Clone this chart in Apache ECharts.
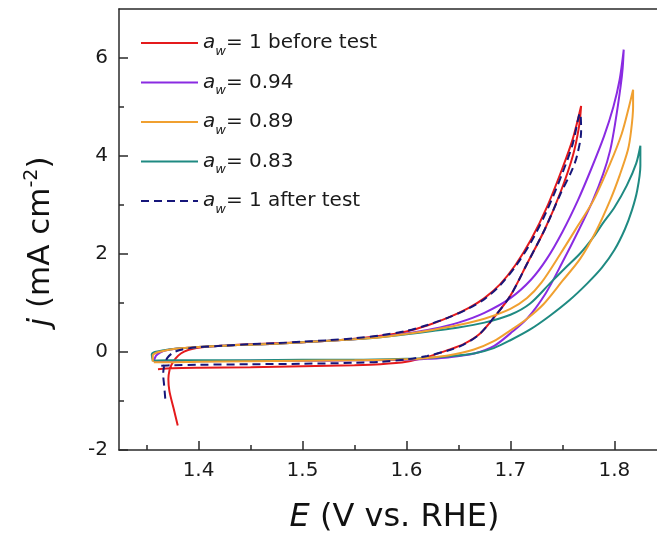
<!DOCTYPE html>
<html>
<head>
<meta charset="utf-8">
<script src="https://cdn.jsdelivr.net/npm/echarts@6/dist/echarts.min.js"></script>
<style>
html,body{margin:0;padding:0;background:#fff;}
#chart{width:657px;height:539px;}
</style>
</head>
<body>
<div id="chart"></div>
<script>
// ---------- data (E in V vs. RHE, j in mA cm^-2) ----------
const legendSuffix = ['= 1 before test', '= 0.94', '= 0.89', '= 0.83', '= 1 after test'];
const seriesNames = ['aw 1 before test', 'aw 0.94', 'aw 0.89', 'aw 0.83', 'aw 1 after test'];

const xMajorTicks = [1.4, 1.5, 1.6, 1.7, 1.8];
const xMinorTicks = [1.35, 1.45, 1.55, 1.65, 1.75];
const yMajorTicks = [-2, 0, 2, 4, 6];
const yMinorTicks = [-1, 1, 3, 5];

const redBefore = [
  [1.380,-1.50],[1.376,-1.15],[1.372,-0.80],[1.371,-0.55],[1.372,-0.38],[1.374,-0.26],
  [1.378,-0.13],[1.383,-0.03],[1.390,0.04],[1.398,0.08],[1.410,0.11],[1.425,0.13],
  [1.450,0.16],[1.475,0.18],[1.500,0.20],[1.525,0.23],[1.550,0.27],[1.575,0.33],
  [1.600,0.42],[1.620,0.54],[1.640,0.70],[1.660,0.90],[1.675,1.10],[1.690,1.38],
  [1.705,1.78],[1.720,2.30],[1.735,2.95],[1.750,3.75],[1.760,4.35],[1.768,5.02],
  [1.766,4.60],[1.760,4.00],[1.748,3.25],[1.733,2.50],[1.716,1.80],[1.700,1.15],
  [1.684,0.70],[1.670,0.36],[1.655,0.16],[1.640,0.04],[1.620,-0.10],[1.600,-0.20],
  [1.575,-0.25],[1.550,-0.27],[1.500,-0.29],[1.450,-0.31],[1.400,-0.32],[1.375,-0.33],[1.361,-0.35]
];
const aw094 = [
  [1.357,-0.19],[1.359,-0.08],[1.363,-0.01],[1.370,0.04],[1.380,0.07],[1.400,0.10],
  [1.425,0.13],[1.450,0.15],[1.475,0.17],[1.500,0.20],[1.525,0.23],[1.550,0.26],
  [1.575,0.31],[1.600,0.38],[1.625,0.47],[1.650,0.60],[1.675,0.80],[1.700,1.10],
  [1.720,1.48],[1.735,1.90],[1.750,2.45],[1.765,3.10],[1.778,3.75],[1.790,4.40],
  [1.799,5.00],[1.805,5.55],[1.809,6.17],
  [1.808,5.80],[1.806,5.42],[1.801,4.70],[1.796,4.12],[1.789,3.62],[1.779,3.08],
  [1.766,2.50],[1.750,1.83],[1.734,1.20],[1.716,0.68],[1.700,0.38],[1.684,0.12],[1.665,-0.03],
  [1.640,-0.11],[1.620,-0.14],[1.600,-0.16],[1.550,-0.17],[1.500,-0.18],[1.450,-0.18],
  [1.400,-0.19],[1.370,-0.19],[1.357,-0.19]
];
const aw089 = [
  [1.356,-0.20],[1.356,-0.07],[1.360,-0.01],[1.368,0.03],[1.380,0.07],[1.400,0.10],
  [1.425,0.13],[1.450,0.15],[1.475,0.17],[1.500,0.20],[1.525,0.23],[1.550,0.26],
  [1.575,0.30],[1.600,0.37],[1.625,0.45],[1.650,0.55],[1.675,0.68],[1.700,0.88],
  [1.716,1.10],[1.730,1.42],[1.748,2.00],[1.765,2.58],[1.780,3.10],[1.796,3.85],
  [1.807,4.45],[1.814,5.00],[1.818,5.35],
  [1.818,5.00],[1.816,4.50],[1.813,4.12],[1.805,3.60],[1.796,3.10],[1.782,2.45],
  [1.767,1.90],[1.750,1.45],[1.732,0.98],[1.716,0.68],[1.700,0.44],[1.684,0.22],[1.665,0.05],
  [1.640,-0.07],[1.620,-0.12],[1.600,-0.15],[1.550,-0.17],[1.500,-0.18],[1.450,-0.19],
  [1.400,-0.20],[1.370,-0.21],[1.357,-0.21]
];
const aw083 = [
  [1.356,-0.18],[1.355,-0.05],[1.358,0.00],[1.365,0.03],[1.380,0.07],[1.400,0.10],
  [1.425,0.13],[1.450,0.15],[1.475,0.17],[1.500,0.20],[1.525,0.23],[1.550,0.26],
  [1.575,0.30],[1.600,0.36],[1.625,0.43],[1.650,0.50],[1.675,0.60],[1.700,0.76],
  [1.719,0.99],[1.738,1.40],[1.752,1.70],[1.767,2.01],[1.780,2.35],[1.789,2.63],
  [1.800,2.95],[1.812,3.40],[1.821,3.85],[1.825,4.21],
  [1.825,3.80],[1.822,3.30],[1.817,2.90],[1.810,2.50],[1.800,2.08],[1.788,1.72],
  [1.774,1.40],[1.757,1.06],[1.738,0.74],[1.719,0.46],[1.700,0.24],[1.684,0.08],
  [1.665,-0.03],[1.640,-0.09],[1.620,-0.12],[1.600,-0.14],[1.550,-0.16],[1.500,-0.16],
  [1.450,-0.17],[1.400,-0.17],[1.370,-0.17],[1.356,-0.18]
];
const dashedAfter = [
  [1.368,-0.95],[1.367,-0.70],[1.366,-0.45],[1.367,-0.28],[1.370,-0.12],[1.375,-0.02],
  [1.382,0.04],[1.392,0.08],[1.400,0.10],[1.425,0.13],[1.450,0.16],[1.475,0.18],
  [1.500,0.21],[1.525,0.24],[1.550,0.28],[1.575,0.34],[1.600,0.43],[1.620,0.55],
  [1.640,0.70],[1.660,0.89],[1.675,1.08],[1.690,1.36],[1.705,1.75],[1.720,2.25],
  [1.735,2.88],[1.750,3.65],[1.760,4.25],[1.767,4.87],
  [1.768,4.50],[1.764,4.00],[1.759,3.70],[1.748,3.22],[1.733,2.50],[1.716,1.80],
  [1.700,1.15],[1.684,0.70],[1.670,0.36],[1.655,0.15],[1.640,0.03],[1.620,-0.08],
  [1.600,-0.15],[1.575,-0.20],[1.550,-0.22],[1.500,-0.24],[1.450,-0.25],[1.400,-0.26],
  [1.375,-0.27],[1.364,-0.28]
];

const seriesData = [redBefore, aw094, aw089, aw083, dashedAfter];
const colors = ['#e41a1c', '#8a2be2', '#f0a030', '#1f8a82', '#16167a'];
const zs = [2, 2, 3, 2, 4];

// ---------- chart ----------
const FONT = "'DejaVu Sans', sans-serif";
const axisColor = '#2a2a2a';
const chart = echarts.init(document.getElementById('chart'), null, {renderer: 'canvas'});

const xMin = 1.3235, xMax = 1.841, yMin = -2, yMax = 7;
const gridBox = {left: 119, top: 9, right: 0, bottom: 89, containLabel: false};

const option = {
  backgroundColor: '#fff',
  animation: false,
  grid: [Object.assign({}, gridBox), Object.assign({}, gridBox)],
  legend: {
    left: 140, top: 33, padding: 0, orient: 'vertical',
    itemWidth: 57, itemHeight: 14, itemGap: 14.5,
    data: seriesNames,
    itemStyle: {opacity: 0},
    formatter: function (name) {
      return '{a|a}{w|w}{t|' + legendSuffix[seriesNames.indexOf(name)] + '}';
    },
    textStyle: {
      fontFamily: FONT, fontSize: 20, color: '#1a1a1a',
      rich: {
        a: {fontFamily: FONT, fontSize: 20, fontStyle: 'italic', lineHeight: 30, verticalAlign: 'middle', color: '#1a1a1a'},
        w: {fontFamily: FONT, fontSize: 13, fontStyle: 'italic', lineHeight: 10, verticalAlign: 'bottom', color: '#1a1a1a'},
        t: {fontFamily: FONT, fontSize: 20, lineHeight: 30, verticalAlign: 'middle', color: '#1a1a1a'}
      }
    }
  },
  xAxis: [
    {
      type: 'value', gridIndex: 0, position: 'bottom', min: xMin, max: xMax,
      axisLine: {show: true, onZero: false, lineStyle: {color: axisColor, width: 1.5}},
      axisTick: {show: true, inside: true, length: 9, customValues: xMajorTicks, lineStyle: {color: axisColor, width: 1.5}},
      axisLabel: {show: true, margin: 11, customValues: xMajorTicks, fontFamily: FONT, fontSize: 20, color: '#1a1a1a',
        formatter: function (v) { return v.toFixed(1); }},
      splitLine: {show: false},
      name: '{i|E}{t| (V vs. RHE)}', nameLocation: 'middle', nameGap: 50,
      nameTextStyle: {fontFamily: FONT, fontSize: 32, color: '#111', padding: [0, 0, 0, 13],
        rich: {
          i: {fontFamily: FONT, fontSize: 32, fontStyle: 'italic', lineHeight: 36, color: '#111'},
          t: {fontFamily: FONT, fontSize: 32, lineHeight: 36, color: '#111'}
        }}
    },
    {
      type: 'value', gridIndex: 1, position: 'bottom', min: xMin, max: xMax,
      axisLine: {show: false, onZero: false},
      axisTick: {show: true, inside: true, length: 5, customValues: xMinorTicks, lineStyle: {color: axisColor, width: 1.5}},
      axisLabel: {show: false}, splitLine: {show: false}
    },
    {
      type: 'value', gridIndex: 1, position: 'top', min: xMin, max: xMax,
      axisLine: {show: true, onZero: false, lineStyle: {color: axisColor, width: 1.5}},
      axisTick: {show: false}, axisLabel: {show: false}, splitLine: {show: false}
    }
  ],
  yAxis: [
    {
      type: 'value', gridIndex: 0, position: 'left', min: yMin, max: yMax,
      axisLine: {show: true, onZero: false, lineStyle: {color: axisColor, width: 1.5}},
      axisTick: {show: true, inside: true, length: 9, customValues: yMajorTicks, lineStyle: {color: axisColor, width: 1.5}},
      axisLabel: {show: true, margin: 11, customValues: yMajorTicks, fontFamily: FONT, fontSize: 20, color: '#1a1a1a'},
      splitLine: {show: false},
      name: '{i|j}{t| (mA cm}{s|-2}{t|)}', nameLocation: 'middle', nameRotate: 90, nameGap: 60,
      nameTextStyle: {fontFamily: FONT, fontSize: 31, color: '#111', padding: [0, 24, 0, 0],
        rich: {
          i: {fontFamily: FONT, fontSize: 31, fontStyle: 'italic', lineHeight: 36, color: '#111'},
          t: {fontFamily: FONT, fontSize: 31, lineHeight: 36, color: '#111'},
          s: {fontFamily: FONT, fontSize: 19, lineHeight: 20, verticalAlign: 'top', color: '#111'}
        }}
    },
    {
      type: 'value', gridIndex: 1, position: 'left', min: yMin, max: yMax,
      axisLine: {show: false, onZero: false},
      axisTick: {show: true, inside: true, length: 5, customValues: yMinorTicks, lineStyle: {color: axisColor, width: 1.5}},
      axisLabel: {show: false}, splitLine: {show: false}
    }
  ],
  series: seriesData.map(function (d, i) {
    return {
      name: seriesNames[i], type: 'line', xAxisIndex: 0, yAxisIndex: 0,
      data: d, symbol: 'none', smooth: 0.3, z: zs[i],
      lineStyle: {color: colors[i], width: 2, type: i === 4 ? [8, 5] : 'solid'},
      itemStyle: {color: colors[i]}
    };
  })
};
chart.setOption(option);
</script>
</body>
</html>
